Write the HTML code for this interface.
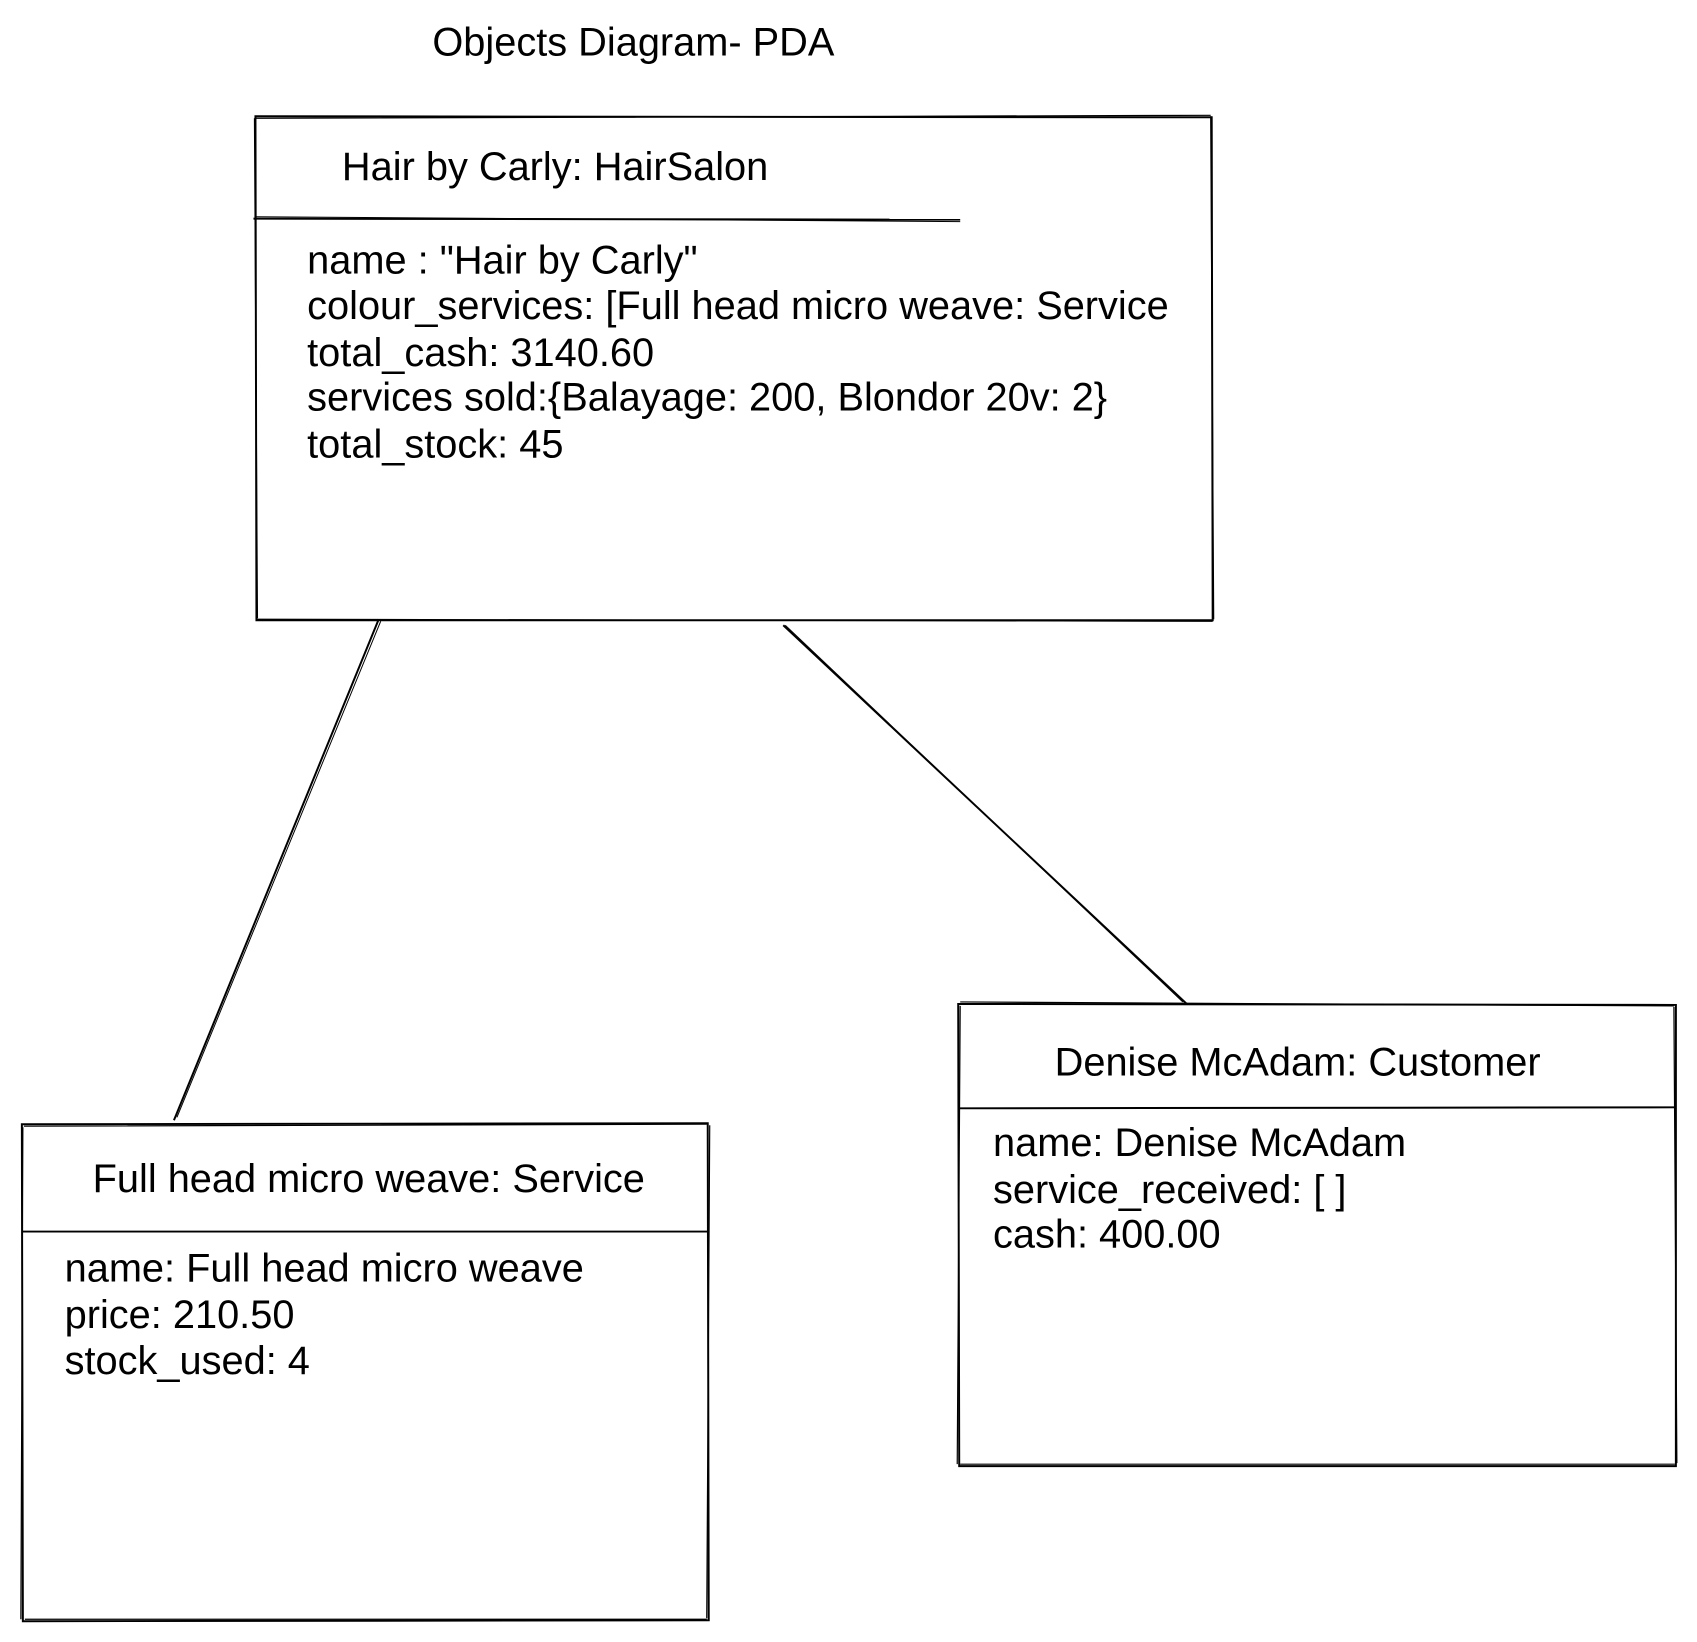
<!DOCTYPE html>
<html><head><style>html,body{margin:0;padding:0;background:#fff}svg{display:block}</style></head>
<body>
<svg width="1697" height="1642" viewBox="0 0 1697 1642" xmlns="http://www.w3.org/2000/svg" font-family="Liberation Sans, Arial, sans-serif" font-size="40" fill="#000">
<g transform="scale(0.994)">
<g stroke="#000" fill="none" stroke-width="2">
<path d="M257 117 L1219 118 L1220 624 L258 624 Z"/>
<path d="M256 119 L1218 116 M1218 117 L1221 623 M1220 625 L259 623 M259 622 L256 119" stroke-width="1.2"/>
<path d="M255 220 L966 221"/><path d="M256 218 L966 223" stroke-width="1"/>
<path d="M22 1131 L712 1130 L713 1630 L23 1631 Z"/>
<path d="M24 1133 L711 1131 M714 1132 L711 1628 M711 1629 L25 1629 M21 1629 L23 1134" stroke-width="1.2"/>
<path d="M22 1239 L712 1239"/>
<path d="M964 1010 L1686 1011 L1686 1475 L965 1475 Z"/>
<path d="M966 1008 L1684 1012 M1684 1013 L1687 1472 M1685 1473 L966 1473 M963 1473 L966 1012" stroke-width="1.2"/>
<path d="M964 1115 L1686 1114"/>
<path d="M381 623 L175 1127"/><path d="M383 625 L178 1124" stroke-width="1"/>
<path d="M788 629 L1194 1010"/><path d="M790 629 L1190 1008" stroke-width="1"/>
</g>
<g dominant-baseline="central">
<text x="435" y="43">Objects Diagram- PDA</text>
<text x="344" y="168">Hair by Carly: HairSalon</text>
<text x="309" y="262">name : "Hair by Carly"</text>
<text x="309" y="308">colour_services: [Full head micro weave: Service</text>
<text x="309" y="355">total_cash: 3140.60</text>
<text x="309" y="400">services sold:{Balayage: 200, Blondor 20v: 2}</text>
<text x="309" y="447">total_stock: 45</text>
<text x="371" y="1186" text-anchor="middle">Full head micro weave: Service</text>
<text x="65" y="1276">name: Full head micro weave</text>
<text x="65" y="1323">price: 210.50</text>
<text x="65" y="1369">stock_used: 4</text>
<text x="1061" y="1069">Denise McAdam: Customer</text>
<text x="999" y="1150">name: Denise McAdam</text>
<text x="999" y="1197">service_received: [ ]</text>
<text x="999" y="1242">cash: 400.00</text>
</g>
</g>
</svg>
</body></html>
